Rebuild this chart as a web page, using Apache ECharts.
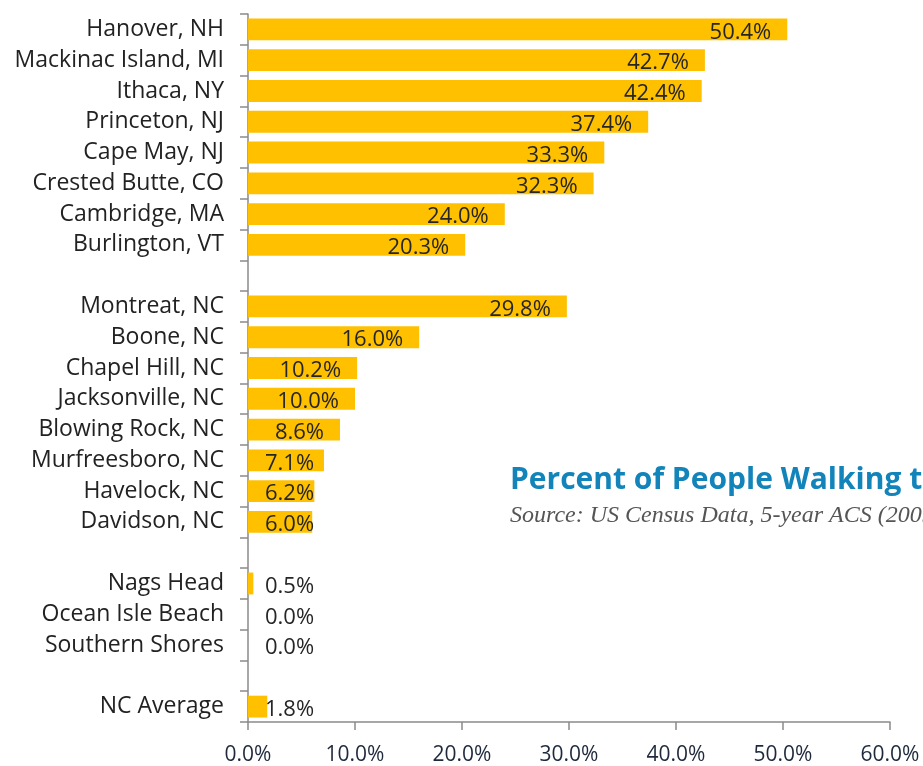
<!DOCTYPE html>
<html>
<head>
<meta charset="utf-8">
<script src="https://cdn.jsdelivr.net/npm/echarts@6/dist/echarts.min.js"></script>
<style>
  html, body { margin: 0; padding: 0; background: #fff; }
  #chart { width: 923px; height: 766px; }
</style>
</head>
<body>
<div id="chart"></div>
<script>
// blank entries are the spacer rows between groups
var towns = [
  'Hanover, NH', 'Mackinac Island, MI', 'Ithaca, NY', 'Princeton, NJ',
  'Cape May, NJ', 'Crested Butte, CO', 'Cambridge, MA', 'Burlington, VT',
  ' ',
  'Montreat, NC', 'Boone, NC', 'Chapel Hill, NC', 'Jacksonville, NC',
  'Blowing Rock, NC', 'Murfreesboro, NC', 'Havelock, NC', 'Davidson, NC',
  '  ',
  'Nags Head', 'Ocean Isle Beach', 'Southern Shores',
  '   ',
  'NC Average'
];
var walkPct = [
  50.4, 42.7, 42.4, 37.4, 33.3, 32.3, 24.0, 20.3,
  null,
  29.8, 16.0, 10.2, 10.0, 8.6, 7.1, 6.2, 6.0,
  null,
  0.5, 0.0, 0.0,
  null,
  1.8
];
var xTicks = [0, 10, 20, 30, 40, 50, 60];

var titleText = 'Percent of People Walking to Work';
var sourceText = 'Source: US Census Data, 5-year ACS (2009-2013)';

var pct = function (v) { return v.toFixed(1) + '%'; };

// short bars get their label pushed out from the axis, like excel does
var barData = walkPct.map(function (v) {
  if (v == null) return '-';
  var small = v < 8;
  return {
    value: v,
    label: {
      position: small ? 'insideLeft' : 'insideRight',
      distance: small ? 17 : 16
    }
  };
});

var chart = echarts.init(document.getElementById('chart'));
chart.setOption({
  animation: false,
  backgroundColor: '#fff',
  title: {
    text: titleText,
    subtext: sourceText,
    left: 505,
    top: 460,
    itemGap: 9,
    textStyle: {
      fontFamily: 'Open Sans', fontWeight: 'bold', fontSize: 30, color: '#1284ba'
    },
    subtextStyle: {
      fontFamily: 'Liberation Serif', fontStyle: 'italic', fontSize: 24, color: '#555'
    }
  },
  grid: { left: 248, right: 33, top: 14, bottom: 44 },
  xAxis: {
    type: 'value',
    min: xTicks[0],
    max: xTicks[xTicks.length - 1],
    interval: 10,
    splitLine: { show: false },
    axisLine: { show: true, lineStyle: { color: '#8a8a8a', width: 1.5 } },
    axisTick: { show: true, length: 8, lineStyle: { color: '#8a8a8a', width: 1.5 } },
    axisLabel: {
      margin: 23,
      formatter: pct,
      fontFamily: 'Open Sans', fontSize: 21, color: '#1e2a3c'
    }
  },
  yAxis: {
    type: 'category',
    data: towns,
    inverse: true,
    axisLine: { show: true, lineStyle: { color: '#8a8a8a', width: 1.5 } },
    axisTick: { show: true, length: 8, alignWithLabel: false, interval: 0, lineStyle: { color: '#8a8a8a', width: 1.5 } },
    axisLabel: {
      interval: 0,
      margin: 24,
      fontFamily: 'Open Sans', fontSize: 23, color: '#222'
    }
  },
  series: [{
    type: 'bar',
    data: barData,
    barCategoryGap: '29%',
    itemStyle: { color: '#ffc000' },
    label: {
      show: true,
      formatter: function (p) { return pct(p.value); },
      offset: [0, 3],
      fontFamily: 'Open Sans', fontSize: 22, color: '#262626'
    }
  }]
});
</script>
</body>
</html>
